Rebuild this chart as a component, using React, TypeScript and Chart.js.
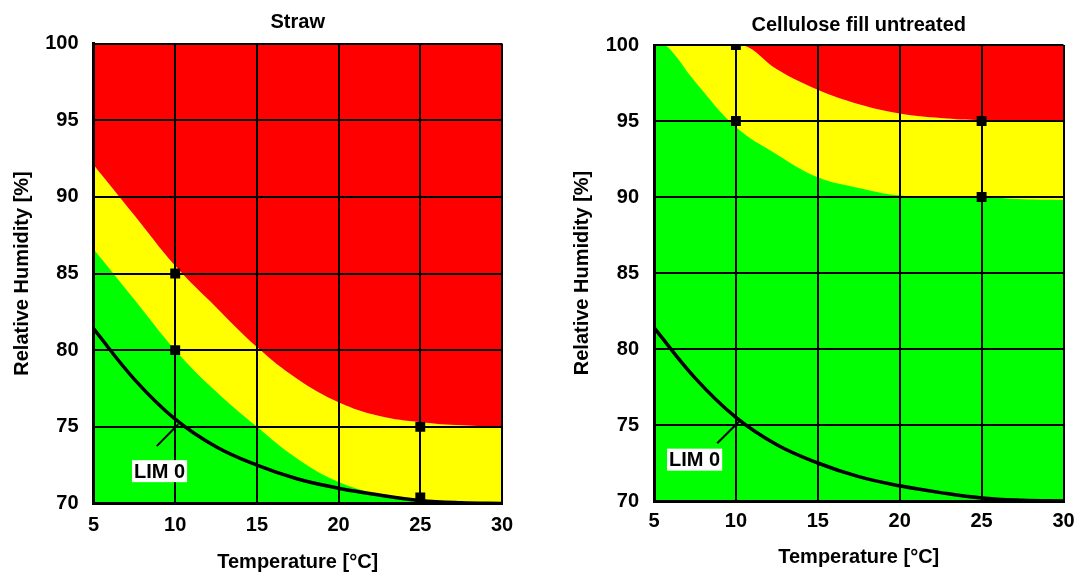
import React, { useEffect, useRef } from 'react';
import { Chart, registerables } from 'chart.js';

Chart.register(...registerables);

// ---------- data ----------
const X_TICKS = [5, 10, 15, 20, 25, 30];
const Y_TICKS = [70, 75, 80, 85, 90, 95, 100];

const LIM0_T = [5, 7.5, 10, 12.5, 15, 17.5, 20, 22.5, 25, 27.5, 30];
const LIM0_RH = [81.4, 78.1, 75.5, 73.7, 72.5, 71.6, 71.0, 70.55, 70.2, 70.05, 70.0];
const LIM_TEXT = 'LIM 0';

const STRAW_TITLE = 'Straw';
const STRAW_UPPER_T = [5, 7.5, 10, 12.5, 15, 17.5, 20, 22.5, 25, 27.5, 30];
const STRAW_UPPER_RH = [92.1, 88.8, 85.5, 82.8, 80.2, 78.1, 76.6, 75.7, 75.3, 75.1, 75.0];
const STRAW_LOWER_T = [5, 7.5, 10, 12.5, 15, 17.5, 20, 22.5, 25, 27.5, 30];
const STRAW_LOWER_RH = [86.6, 83.3, 80.0, 77.3, 75.0, 72.9, 71.4, 70.6, 70.2, 70.0, 70.0];
const STRAW_MARK_T = [10, 10, 25, 25];
const STRAW_MARK_RH = [85, 80, 75, 70.4];
const STRAW_LABEL = { t: 9.04, rh: 72.11 };
const STRAW_LEADER_T = [8.87, 10.19];
const STRAW_LEADER_RH = [73.74, 75.17];

const CELL_TITLE = 'Cellulose fill untreated';
const CELL_UPPER_T = [5, 7.5, 10.4, 12.5, 15, 17.5, 20, 22.5, 25, 27.5, 30];
const CELL_UPPER_RH = [100, 100, 100, 98.4, 97.05, 96.1, 95.5, 95.2, 95.05, 95.0, 95.0];
const CELL_LOWER_T = [5, 5.7, 7.5, 10, 12.5, 15, 17.5, 20, 22.5, 25, 27.5, 30];
const CELL_LOWER_RH = [100, 100, 97.6, 94.6, 92.8, 91.3, 90.6, 90.1, 90.03, 90.0, 89.85, 89.8];
const CELL_MARK_T = [10, 10, 25, 25];
const CELL_MARK_RH = [100, 95, 95, 90];
const CELL_LABEL = { t: 7.48, rh: 72.72 };
const CELL_LEADER_T = [8.86, 10.24];
const CELL_LEADER_RH = [73.8, 75.28];

const X_TITLE = 'Temperature [°C]';
const Y_TITLE = 'Relative Humidity [%]';

// ---------- styles ----------
const RED = '#ff0000';
const YELLOW = '#ffff00';
const GREEN = '#00ff00';
const FONT_FAMILY = '"Liberation Sans", Arial, Helvetica, sans-serif';
const FONT = { family: FONT_FAMILY, size: 20, weight: 'bold' as const, lineHeight: 1 };

const zip = (xs: number[], ys: number[]) => xs.map((x, i) => ({ x, y: ys[i] }));

interface Panel {
  title: string;
  upperT: number[]; upperRH: number[];
  lowerT: number[]; lowerRH: number[];
  markT: number[]; markRH: number[];
  label: { t: number; rh: number };
  leaderT: number[]; leaderRH: number[];
  left: number;
  width: number;
  padRight: number;
  titleTop: number; titleBottom: number;
  yAxisW: number; yTitleTop: number; yTickPad: number;
  xAxisH: number; xTitleBottom: number; xTickPad: number;
}

const PANELS: Panel[] = [
  {
    title: STRAW_TITLE,
    upperT: STRAW_UPPER_T, upperRH: STRAW_UPPER_RH,
    lowerT: STRAW_LOWER_T, lowerRH: STRAW_LOWER_RH,
    markT: STRAW_MARK_T, markRH: STRAW_MARK_RH,
    label: STRAW_LABEL, leaderT: STRAW_LEADER_T, leaderRH: STRAW_LEADER_RH,
    left: 0, width: 540, padRight: 38,
    titleTop: 12.5, titleBottom: 11,
    yAxisW: 93.5, yTitleTop: 12.5, yTickPad: 15,
    xAxisH: 68.5, xTitleBottom: 0, xTickPad: 12,
  },
  {
    title: CELL_TITLE,
    upperT: CELL_UPPER_T, upperRH: CELL_UPPER_RH,
    lowerT: CELL_LOWER_T, lowerRH: CELL_LOWER_RH,
    markT: CELL_MARK_T, markRH: CELL_MARK_RH,
    label: CELL_LABEL, leaderT: CELL_LEADER_T, leaderRH: CELL_LEADER_RH,
    left: 540, width: 560, padRight: 36.5,
    titleTop: 15, titleBottom: 10,
    yAxisW: 114, yTitleTop: 32.5, yTickPad: 15,
    xAxisH: 71, xTitleBottom: 5, xTickPad: 10,
  },
];

const labelPlugin = (p: Panel) => ({
  id: 'limLabel',
  afterDatasetsDraw(chart: any) {
    const { ctx, scales } = chart;
    const px = scales.x.getPixelForValue(p.label.t);
    const py = scales.y.getPixelForValue(p.label.rh);
    ctx.save();
    ctx.font = `bold 20px ${FONT_FAMILY}`;
    const w = ctx.measureText(LIM_TEXT).width;
    ctx.fillStyle = '#ffffff';
    ctx.fillRect(px - w / 2 - 2, py - 11, w + 4, 22);
    ctx.fillStyle = '#000000';
    ctx.textAlign = 'center';
    ctx.textBaseline = 'middle';
    ctx.fillText(LIM_TEXT, px, py + 1);
    ctx.restore();
  },
});

function makeConfig(p: Panel): any {
  const hidden = 'rgba(0,0,0,0)';
  return {
    type: 'line',
    data: {
      datasets: [
        {
          label: 'green zone', data: zip(p.lowerT, p.lowerRH), fill: 'start',
          backgroundColor: GREEN, borderColor: hidden, borderWidth: 0, pointRadius: 0,
          tension: 0.4, order: 4,
        },
        {
          label: 'yellow zone', data: zip(p.upperT, p.upperRH), fill: 'start',
          backgroundColor: YELLOW, borderColor: hidden, borderWidth: 0, pointRadius: 0,
          tension: 0.4, order: 5,
        },
        {
          label: 'red zone', data: zip(p.upperT, p.upperRH), fill: 'end',
          backgroundColor: RED, borderColor: hidden, borderWidth: 0, pointRadius: 0,
          tension: 0.4, order: 3,
        },
        {
          label: LIM_TEXT, data: zip(LIM0_T, LIM0_RH), fill: false,
          borderColor: '#000', borderWidth: 3.5, pointRadius: 0,
          tension: 0.4, order: 2,
        },
        {
          label: 'leader', data: zip(p.leaderT, p.leaderRH), fill: false,
          borderColor: '#000', borderWidth: 2, pointRadius: 0, order: 1,
        },
        {
          label: 'points', data: zip(p.markT, p.markRH), showLine: false, fill: false,
          pointStyle: 'rect', pointRadius: 7, pointBackgroundColor: '#000',
          pointBorderWidth: 0, borderColor: '#000', order: 0,
        },
      ],
    },
    options: {
      animation: false,
      responsive: false,
      events: [],
      layout: { padding: { left: 0, right: p.padRight, top: 0, bottom: 0 } },
      plugins: {
        legend: { display: false },
        tooltip: { enabled: false },
        filler: { drawTime: 'beforeDraw', propagate: false },
        title: {
          display: true, text: p.title, fullSize: false, color: '#000', font: FONT,
          padding: { top: p.titleTop, bottom: p.titleBottom },
        },
      },
      scales: {
        x: {
          type: 'linear', min: 5, max: 30,
          afterFit: (s: any) => { s.height = p.xAxisH; },
          afterBuildTicks: (s: any) => { s.ticks = X_TICKS.map((v) => ({ value: v })); },
          ticks: { color: '#000', font: FONT, padding: p.xTickPad, maxRotation: 0 },
          grid: { color: '#000', lineWidth: 2, drawTicks: false },
          border: { display: true, color: '#000', width: 3 },
          title: {
            display: true, text: X_TITLE, color: '#000', font: FONT,
            padding: { top: 0, bottom: p.xTitleBottom },
          },
        },
        y: {
          type: 'linear', min: 70, max: 100,
          afterFit: (s: any) => { s.width = p.yAxisW; },
          afterBuildTicks: (s: any) => { s.ticks = Y_TICKS.map((v) => ({ value: v })); },
          ticks: { color: '#000', font: FONT, padding: p.yTickPad },
          grid: { color: '#000', lineWidth: 2, drawTicks: false },
          border: { display: true, color: '#000', width: 3 },
          title: {
            display: true, text: Y_TITLE, color: '#000', font: FONT,
            padding: { top: p.yTitleTop, bottom: 0 },
          },
        },
      },
    },
    plugins: [labelPlugin(p)],
  };
}

function PanelChart({ panel }: { panel: Panel }) {
  const ref = useRef<HTMLCanvasElement | null>(null);
  useEffect(() => {
    if (!ref.current) return;
    const chart = new Chart(ref.current, makeConfig(panel));
    return () => chart.destroy();
  }, [panel]);
  return <canvas ref={ref} width={panel.width} height={572} style={{ display: 'block', width: panel.width, height: 572 }} />;
}

export default function App() {
  return (
    <div style={{ position: 'absolute', left: 0, top: 0, width: 1076, height: 572, background: '#fff', overflow: 'hidden' }}>
      {PANELS.map((p) => (
        <div key={p.title} style={{ position: 'absolute', left: p.left, top: 0 }}>
          <PanelChart panel={p} />
        </div>
      ))}
    </div>
  );
}
